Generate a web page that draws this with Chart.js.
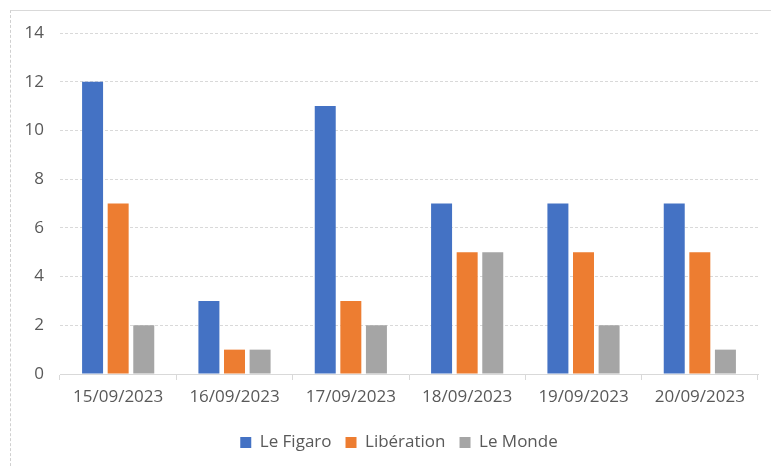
<!DOCTYPE html>
<html>
<head>
<meta charset="utf-8">
<script src="https://cdn.jsdelivr.net/npm/chart.js@4/dist/chart.umd.min.js"></script>
<style>
    html, body { margin: 0; padding: 0; background: #fff; }
    #wrap { position: relative; width: 771px; height: 466px; overflow: hidden; }
    #frame {
        position: absolute; left: 10px; top: 10px; width: 780px; height: 470px;
        border-top: 1px solid #d9d9d9; border-left: 1px dashed #d0d0d0;
    }
    #chart { position: absolute; left: 0; top: 0; }
</style>
</head>
<body>
<div id="wrap">
    <div id="frame"></div>
    <canvas id="chart" width="771" height="466"></canvas>
</div>
<script>
// Data
const dates = ['15/09/2023', '16/09/2023', '17/09/2023', '18/09/2023', '19/09/2023', '20/09/2023'];
const leFigaro = [12, 3, 11, 7, 7, 7];
const liberation = [7, 1, 3, 5, 5, 5];
const leMonde = [2, 1, 2, 5, 2, 1];
const yTicks = [0, 2, 4, 6, 8, 10, 12, 14];

const textColor = '#595959';
const font = { family: '"Open Sans", sans-serif', size: 17 };

// centre the legend under the plot area rather than the whole canvas
const legendShift = {
    id: 'legendShift',
    afterLayout(chart) {
        const dx = 20;
        chart.legend.left += dx;
        chart.legend.right += dx;
    }
};

const ctx = document.getElementById('chart').getContext('2d');

new Chart(ctx, {
    type: 'bar',
    data: {
        labels: dates,
        datasets: [
            { label: 'Le Figaro', data: leFigaro, backgroundColor: '#4472C4' },
            { label: 'Libération', data: liberation, backgroundColor: '#ED7D31' },
            { label: 'Le Monde', data: leMonde, backgroundColor: '#A5A5A5' }
        ]
    },
    options: {
        responsive: false,
        animation: false,
        layout: { padding: { top: 33, right: 13, left: 0, bottom: 5 } },
        datasets: {
            bar: { barPercentage: 0.82, categoryPercentage: 0.66 }
        },
        plugins: {
            tooltip: { enabled: false },
            legend: {
                position: 'bottom',
                labels: {
                    color: textColor,
                    font: font,
                    boxWidth: 11,
                    boxHeight: 11,
                    padding: 14
                }
            }
        },
        scales: {
            x: {
                grid: {
                    offset: true,
                    drawOnChartArea: false,
                    drawTicks: true,
                    tickLength: 6,
                    color: '#d9d9d9'
                },
                border: { display: true, color: '#d9d9d9' },
                ticks: { color: textColor, font: font, padding: 7, maxRotation: 0 },
                afterFit: scale => { scale.height = 46; }
            },
            y: {
                min: 0,
                max: 14,
                afterBuildTicks: scale => { scale.ticks = yTicks.map(v => ({ value: v })); },
                grid: { color: '#d9d9d9', drawTicks: false },
                border: { display: false, dash: [3, 2] },
                ticks: { color: textColor, font: font, padding: 16 },
                afterFit: scale => { scale.width = 60; }
            }
        }
    },
    plugins: [legendShift]
});
</script>
</body>
</html>
